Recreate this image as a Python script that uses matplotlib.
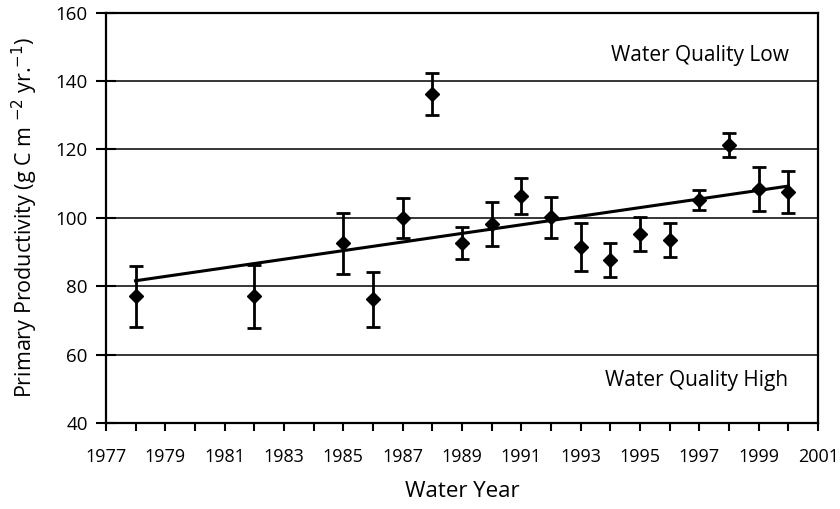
import matplotlib.pyplot as plt
import numpy as np

years = [1978, 1982, 1985, 1986, 1987, 1988, 1989, 1990, 1991, 1992,
         1993, 1994, 1995, 1996, 1997, 1998, 1999, 2000]
productivity = [77.0, 77.0, 92.5, 76.2, 100.0, 136.3, 92.6, 98.2, 106.3, 100.2,
                91.5, 87.7, 95.3, 93.5, 105.3, 121.3, 108.4, 107.5]
errors = [8.8, 9.3, 9.0, 8.0, 5.8, 6.1, 4.6, 6.3, 5.3, 6.0,
          7.1, 4.9, 5.0, 4.9, 2.9, 3.4, 6.4, 6.1]

# regression line end points
trend_years = [1978, 2000]
trend_values = [81.6, 109.3]

plt.rcParams['font.family'] = ['Open Sans', 'DejaVu Sans']

fig = plt.figure(figsize=(8.4, 5.09), dpi=100)
ax = fig.add_axes([0.126, 0.169, 0.848, 0.806])

for y in range(60, 160, 20):
    ax.axhline(y, color='black', lw=1.1, zorder=1)

ax.plot(trend_years, trend_values, color='black', lw=2.2, zorder=2)
ax.errorbar(years, productivity, yerr=errors, fmt='D', color='black',
            ms=7.5, elinewidth=2, capsize=5, capthick=2, zorder=3)

ax.set_xlim(1977, 2001)
ax.set_ylim(40, 160)
ax.set_xticks(np.arange(1977, 2002, 2))
ax.set_xticks(np.arange(1977, 2002, 1), minor=True)
ax.set_yticks(np.arange(40, 161, 20))
ax.tick_params(axis='x', which='both', direction='out', length=6, width=1.5,
               labelsize=13, pad=12)
ax.tick_params(axis='y', direction='inout', length=14, width=1.5,
               labelsize=13.5, pad=6)
for s in ax.spines.values():
    s.set_linewidth(1.6)

ax.text(2000.0, 147.5, 'Water Quality Low', ha='right', va='center', fontsize=15)
ax.text(2000.0, 52.3, 'Water Quality High', ha='right', va='center', fontsize=15)

ax.set_xlabel('Water Year', fontsize=16, labelpad=11)
ax.set_ylabel('Primary Productivity (g C m $^{-2}$ yr.$^{-1}$)', fontsize=15.5,
              labelpad=11)

fig.savefig('out.png', dpi=100)
